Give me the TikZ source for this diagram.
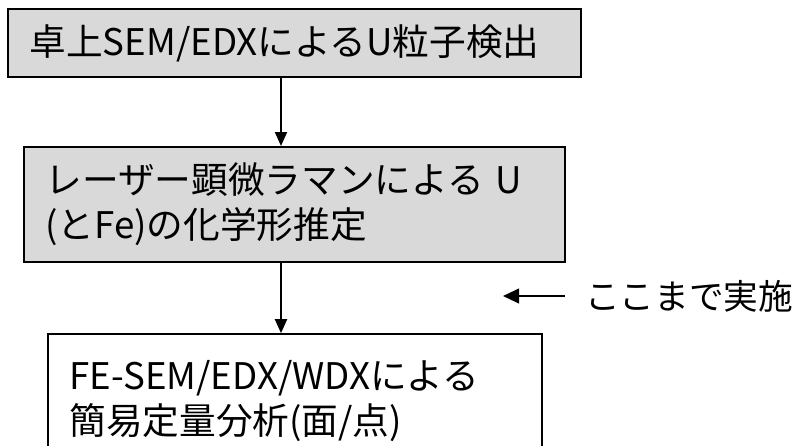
\documentclass[tikz,border=0pt]{standalone}
\usepackage{fontspec}
\setmainfont{Noto Sans CJK JP}
\usetikzlibrary{arrows.meta}
\tikzset{
  procbox/.style={draw=black, line width=1.5pt, rectangle, inner xsep=16pt, inner ysep=0pt,
    align=left, font=\fontsize{27.5}{33.75}\selectfont, anchor=center},
  graybox/.style={procbox, fill=black!15},
  whitebox/.style={procbox, fill=white, line width=1.2pt},
  flow/.style={line width=1.5pt, -{Triangle[length=10.5pt,width=9pt]}},
  sideflow/.style={line width=1.5pt, -{Triangle[length=12pt,width=11pt]}},
  note/.style={font=\fontsize{26}{30}\selectfont, anchor=west, inner sep=0pt}
}
\begin{document}
\begin{tikzpicture}[x=0.75pt,y=-0.75pt]
\clip (0,0) rectangle (800,446);
\fill[white] (0,0) rectangle (800,446);
\node[graybox, minimum width=573*0.75pt, minimum height=68*0.75pt, text width=(573-43)*0.75pt] (b1) at (294.5,43) {卓上SEM/EDXによるU粒子検出};
\node[graybox, minimum width=541*0.75pt, minimum height=115*0.75pt, text width=(541-43)*0.75pt] (b2) at (294.5,204.5) {レーザー顕微ラマンによる U\\(とFe)の化学形推定};
\node[whitebox, minimum width=494*0.75pt, minimum height=134*0.75pt, text width=(494-43)*0.75pt] (b3) at (295,401) {FE-SEM/EDX/WDXによる\\簡易定量分析(面/点)};
\coordinate (ax) at (281,0);
\draw[flow] (b1.south -| ax) -- (b2.north -| ax);
\draw[flow] (b2.south -| ax) -- (b3.north -| ax);
\node[note] (lbl) at (585,296) {ここまで実施};
\coordinate (tipL) at (503,296);
\draw[sideflow, shorten <=15pt] (lbl.west) -- (tipL);
\end{tikzpicture}
\end{document}
